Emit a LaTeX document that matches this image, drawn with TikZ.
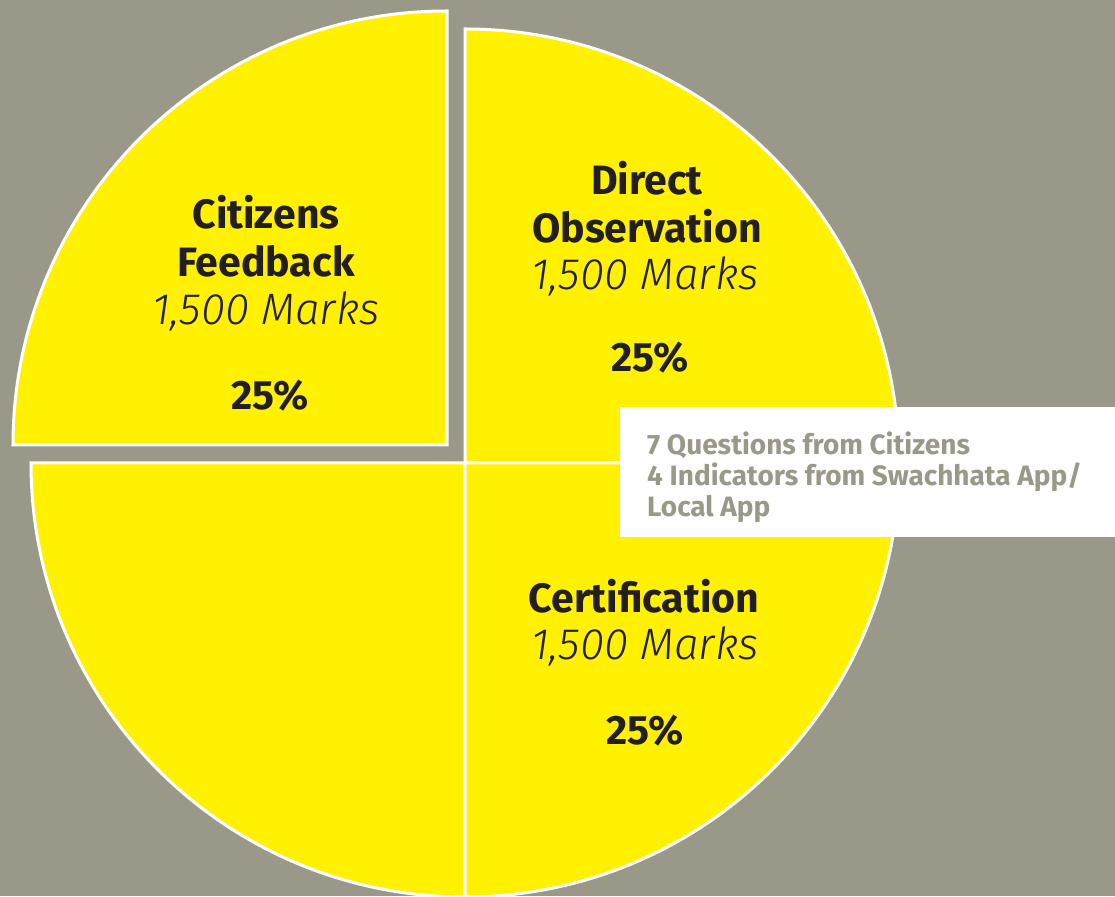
\documentclass[tikz,border=0pt]{standalone}
\usepackage{fontspec}
\setmainfont{Fira Sans}
\newfontfamily\marksfont{Fira Sans Light Italic}
\definecolor{bggrey}{HTML}{9A9989}
\definecolor{pieyellow}{HTML}{FFF100}
\definecolor{inkdark}{HTML}{231F20}
\tikzset{
  wedge/.style={fill=pieyellow, draw=white, line width=3pt},
  head/.style={text=inkdark, font=\fontsize{41}{48}\selectfont\bfseries, align=center, anchor=base, inner sep=0pt},
  marks/.style={text=inkdark, font=\fontsize{44}{48}\marksfont, anchor=base, inner sep=0pt},
  pct/.style={text=inkdark, font=\fontsize{41}{48}\selectfont\bfseries, anchor=base, inner sep=0pt},
  note/.style={text=bggrey, font=\fontsize{28}{31}\selectfont\bfseries, align=left, anchor=base west, inner sep=0pt}
}
\begin{document}
\begin{tikzpicture}[x=1pt,y=1pt]
      \fill[bggrey] (0,0) rectangle (1115,896);
      \useasboundingbox (0,0) rectangle (1115,896);
      \begin{scope}
        \clip (0,0) rectangle (1115,896);
        \draw[wedge] (447,451) -- (13,451) arc[start angle=180, end angle=90, radius=434] -- cycle;
        \draw[wedge] (465,433) -- (465,867) arc[start angle=90, end angle=0, radius=434] -- cycle;
        \draw[wedge] (465,433) -- (465,-1) arc[start angle=270, end angle=180, radius=434] -- cycle;
        \draw[wedge] (465,433) -- (899,433) arc[start angle=0, end angle=-90, radius=434] -- cycle;
      \end{scope}
      \node[head] (cfTitle) at (266,619) {Citizens\\Feedback};
      \node[marks] (cfMarks) at (266,571) {1,500 Marks};
      \node[pct] (cfPct) at (270,486) {25\%};
      \node[head] (doTitle) at (647,653) {Direct\\Observation};
      \node[marks] (doMarks) at (645,606) {1,500 Marks};
      \node[pct] (doPct) at (650,524) {25\%};
      \node[head] (ceTitle) at (644,283) {Certification};
      \node[marks] (ceMarks) at (645,236) {1,500 Marks};
      \node[pct] (cePct) at (645,151) {25\%};
      \fill[white] (620,359) rectangle (1115,489);
      \node[note] (cfNote) at (647,379) {7 Questions from Citizens\\4 Indicators from Swachhata App/\\Local App};
    \end{tikzpicture}
\end{document}
